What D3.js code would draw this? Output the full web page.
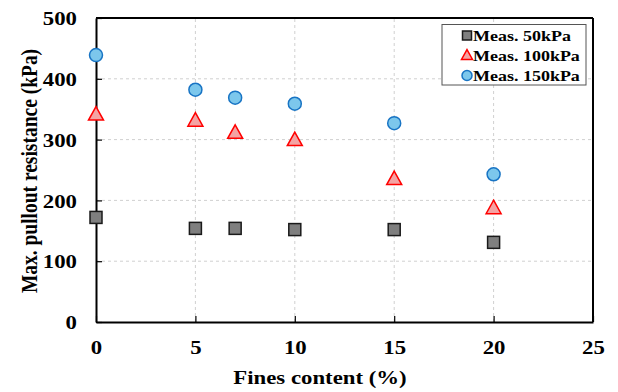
<!DOCTYPE html>
<html>
<head>
<title>Pullout resistance vs fines content</title>
<script src="https://d3js.org/d3.v7.min.js"></script>
<style>
body { margin: 0; background: #fff; }
text { font-family: "Liberation Serif", "Times New Roman", serif; font-weight: bold; }
</style>
</head>
<body>
<div id="chart"></div>
<script>
var fines = [0, 5, 7, 10, 15, 20];
var meas50 = [172, 154, 154, 152, 152, 131];
var meas100 = [341, 331, 311, 299, 235, 187];
var meas150 = [439, 382, 369, 359, 327, 243];
var xTicks = [0, 5, 10, 15, 20, 25];
var yTicks = [0, 100, 200, 300, 400, 500];
var seriesNames = ["Meas. 50kPa", "Meas. 100kPa", "Meas. 150kPa"];

var width = 618, height = 392;
var margin = { top: 18, right: 25, bottom: 70, left: 96 };
var stretch = 1.2; // glyphs in the picture are wider than normal

var svg = d3.select("#chart").append("svg")
  .attr("width", width)
  .attr("height", height);

var x = d3.scaleLinear().domain([0, 25]).range([margin.left, width - margin.right]);
var y = d3.scaleLinear().domain([0, 500]).range([height - margin.bottom, margin.top]);

// grid
svg.append("g").selectAll("line")
  .data(xTicks.slice(1, -1))
  .enter().append("line")
  .attr("x1", function(d) { return x(d); })
  .attr("x2", function(d) { return x(d); })
  .attr("y1", y(0)).attr("y2", y(500))
  .attr("stroke", "#d0d0d0").attr("stroke-dasharray", "3,3");
svg.append("g").selectAll("line")
  .data(yTicks.slice(1, -1))
  .enter().append("line")
  .attr("x1", x(0)).attr("x2", x(25))
  .attr("y1", function(d) { return y(d); })
  .attr("y2", function(d) { return y(d); })
  .attr("stroke", "#d0d0d0").attr("stroke-dasharray", "3,3");

// axes
var xAxis = svg.append("g")
  .attr("transform", "translate(0," + y(0) + ")")
  .call(d3.axisBottom(x).tickValues(xTicks).tickSizeInner(-6).tickSizeOuter(0).tickPadding(19));
var yAxis = svg.append("g")
  .attr("transform", "translate(" + x(0) + ",0)")
  .call(d3.axisLeft(y).tickValues(yTicks).tickSizeInner(-6).tickSizeOuter(0));
[xAxis, yAxis].forEach(function(a) {
  a.select(".domain").attr("stroke", "#000").attr("stroke-width", 2);
  a.selectAll(".tick line").attr("stroke", "#000").attr("stroke-width", 1.2);
  a.selectAll(".tick text").attr("font-size", 19).attr("fill", "#000")
    .style("font-family", "'Liberation Serif', serif").style("font-weight", "bold");
});
xAxis.selectAll(".tick text").attr("transform", "scale(" + stretch + ",1)");
yAxis.selectAll(".tick text").attr("x", 0).attr("dy", "0.35em")
  .attr("transform", "translate(-19,0) scale(" + stretch + ",1)");

// top and right frame
svg.append("line").attr("x1", x(0)).attr("x2", x(25)).attr("y1", y(500)).attr("y2", y(500))
  .attr("stroke", "#000").attr("stroke-width", 2);
svg.append("line").attr("x1", x(25)).attr("x2", x(25)).attr("y1", y(500)).attr("y2", y(0))
  .attr("stroke", "#000").attr("stroke-width", 2);

// axis titles
svg.append("text")
  .attr("transform", "translate(320,384) scale(" + stretch + ",1)")
  .attr("text-anchor", "middle").attr("font-size", 19)
  .text("Fines content (%)");
svg.append("text")
  .attr("transform", "translate(37,171) rotate(-90) scale(1," + stretch + ")")
  .attr("text-anchor", "middle").attr("font-size", 19.5)
  .text("Max. pullout resistance (kPa)");

// markers
function square(g, cx, cy, s) {
  g.append("rect").attr("x", cx - s / 2).attr("y", cy - s / 2).attr("width", s).attr("height", s)
    .attr("fill", "#7f7f7f").attr("stroke", "#1a1a1a").attr("stroke-width", 1.5);
}
function triangle(g, cx, cy, s) {
  var h = s * 0.9;
  g.append("path")
    .attr("d", "M" + cx + "," + (cy - h * 0.6) + "L" + (cx + s / 2) + "," + (cy + h * 0.4) + "L" + (cx - s / 2) + "," + (cy + h * 0.4) + "Z")
    .attr("fill", "#f4a3a3").attr("stroke", "#ff0000").attr("stroke-width", 1.5);
}
function circle(g, cx, cy, s) {
  g.append("circle").attr("cx", cx).attr("cy", cy).attr("r", s / 2)
    .attr("fill", "#7cc7ec").attr("stroke", "#1874c4").attr("stroke-width", 1.5);
}

var pts = svg.append("g");
fines.forEach(function(f, i) {
  square(pts, x(f), y(meas50[i]), 12);
  triangle(pts, x(f), y(meas100[i]), 15);
  circle(pts, x(f), y(meas150[i]), 13);
});

// legend
var lg = svg.append("g");
lg.append("rect").attr("x", 442).attr("y", 24.5).attr("width", 144).attr("height", 60.5)
  .attr("fill", "#fff").attr("stroke", "#555").attr("stroke-width", 1);
var drawers = [square, triangle, circle];
var sizes = [9, 11, 10];
seriesNames.forEach(function(n, i) {
  var cy = 35.5 + i * 20;
  drawers[i](lg, 467, cy, sizes[i]);
  lg.append("text").attr("transform", "translate(473," + cy + ") scale(" + stretch + ",1)")
    .attr("dy", "0.35em").attr("font-size", 15).text(n);
});
</script>
</body>
</html>
